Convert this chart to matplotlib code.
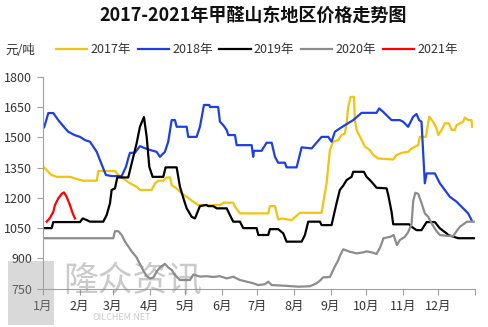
import matplotlib
matplotlib.use("Agg")
import matplotlib.pyplot as plt
from matplotlib.patches import Rectangle

plt.rcParams['font.family'] = ['Noto Sans CJK SC', 'DejaVu Sans']

title = "2017-2021年甲醛山东地区价格走势图"
unit = "元/吨"
month_labels = ["1月", "2月", "3月", "4月", "5月", "6月", "7月", "8月", "9月", "10月", "11月", "12月"]
month_starts = [0, 31, 59, 90, 120, 151, 181, 212, 243, 273, 304, 334, 365]
y_ticks = [750, 900, 1050, 1200, 1350, 1500, 1650, 1800]

# day of year / price (yuan per ton)
d2017 = [1, 4.5, 7.3, 11.6, 22.8, 28.5, 34, 45.4, 46.7, 60.8, 63.6, 67.8, 73.5, 79.1, 81.9, 91.8, 94.6, 97.4,
         101.6, 104.5, 107.3, 108.7, 112.9, 117.1, 121.4, 127, 131.2, 149.5, 152.3, 160.7, 162.2, 166.4, 190.3,
         191.7, 196, 198.7, 201.6, 210, 217.1, 235.4, 236.7, 239.6, 242.4, 245.2, 249.4, 252.2, 255.1, 256.5,
         257.9, 259.9, 262.7, 263.5, 265, 269.2, 272, 276.2, 279, 283.2, 295.9, 298.7, 303, 308.5, 311.4, 317,
         318.4, 323.5, 326.3, 329.6, 332.5, 333.9, 336.7, 339.5, 342.9, 345.2, 348, 349.4, 355, 356.4, 359.2,
         362.1, 362.5]
v2017 = [1350, 1329, 1313, 1304, 1304, 1293, 1285, 1285, 1333, 1333, 1313, 1296, 1272, 1255, 1239, 1239, 1272, 1285,
         1285, 1301, 1301, 1263, 1247, 1222, 1205, 1181, 1164, 1164, 1176, 1176, 1156, 1123, 1123,
         1159, 1159, 1093, 1098, 1090, 1126, 1126, 1173, 1272, 1437, 1478, 1486, 1511, 1519, 1569,
         1651, 1700, 1700, 1585, 1536, 1486, 1453, 1437, 1412, 1395, 1390, 1412, 1423, 1428, 1445, 1461,
         1502, 1502, 1602, 1577, 1544, 1511, 1536, 1569, 1569, 1536, 1536, 1560, 1577, 1598, 1585,
         1585, 1552]

d2018 = [1, 4.5, 8.7, 12.9, 18.6, 21.4, 27, 31.3, 35.5, 39.7, 45.4, 48.1, 53.2, 58, 66.5, 70.1, 72, 73.5, 77.7,
         81.9, 86.1, 90.4, 96, 98.8, 103, 105.8, 108.7, 111.5, 112.9, 121.4, 122.7, 129.8, 132.6, 136, 140.5,
         141, 148, 149.5, 152.3, 155.2, 156.5, 162.2, 163.6, 176.3, 177.6, 178.2, 184.7, 188.9, 193.2, 196,
         198.7, 204.4, 205.8, 214.3, 218.5, 227, 235.4, 241, 243.8, 246.6, 250.8, 255.1, 262.1, 269.2, 281.8,
         284, 287.4, 294.5, 301.5, 304.3, 308.5, 312.8, 315.6, 317.8, 319.8, 322.6, 324.1, 331.1, 335.3,
         339.5, 343.8, 349.4, 355, 359.2, 362.1]
v2018 = [1550, 1620, 1620, 1585, 1545, 1527, 1510, 1502, 1486, 1478, 1428, 1387, 1313, 1308, 1308, 1354, 1395, 1423, 1423,
         1456, 1446, 1437, 1428, 1403, 1428, 1478, 1585, 1585, 1552, 1552, 1502, 1502, 1552, 1660, 1660,
         1650, 1650, 1577, 1560, 1536, 1511, 1511, 1461, 1461, 1403, 1433, 1433, 1473, 1473, 1403,
         1374, 1374, 1351, 1351, 1450, 1445, 1502, 1502, 1478, 1527, 1544, 1560, 1585, 1621, 1621,
         1643, 1626, 1585, 1585, 1577, 1552, 1602, 1615, 1585, 1577, 1272, 1321, 1321, 1272,
         1239, 1205, 1181, 1148, 1123, 1090]

d2019 = [1, 7.3, 8.7, 31.3, 33.5, 36.9, 39.7, 50.9, 53.8, 56.6, 58, 60.8, 62.8, 72, 79.1, 81.9, 85.3, 87.6, 89.8,
         92.6, 101.6, 103.6, 112.9, 115.7, 119.1, 121.4, 125.6, 128.4, 131.2, 132.6, 138, 139.5, 143.8, 146.8,
         155.2, 157.9, 160.7, 166.4, 169.2, 180.5, 181.9, 190.3, 191.7, 198.7, 203, 205.8, 218.5, 221.3, 224.1,
         234, 235.4, 243.8, 248, 250.8, 253.6, 256.5, 260.7, 262.1, 271.1, 273.4, 276.2, 279, 281.8, 290.3,
         291.7, 294.5, 295.9, 309.4, 311.4, 315.6, 319.8, 324.1, 331.1, 335.3, 341, 342.3, 350.8, 365]
v2019 = [1050, 1050, 1080, 1080, 1098, 1090, 1082, 1082, 1115, 1173, 1239, 1247, 1301, 1301, 1470, 1552, 1600, 1502, 1354,
         1304, 1304, 1351, 1351, 1255, 1189, 1148, 1106, 1098, 1139, 1159, 1165, 1159, 1159, 1148,
         1148, 1115, 1082, 1082, 1050, 1050, 1016, 1016, 1045, 1045, 1024, 983, 983, 1016, 1082,
         1082, 1065, 1065, 1173, 1239, 1260, 1288, 1304, 1329, 1329, 1304, 1288, 1270, 1250, 1247,
         1214, 1131, 1069, 1069, 1057, 1040, 1040, 1080, 1080, 1049, 1024, 1016, 1000, 1000]

d2020 = [1, 59.4, 60.8, 63.6, 66.5, 69.3, 72, 74.9, 79.1, 81.9, 84.8, 87.6, 90.4, 93.2, 96, 98.8, 103, 105.8, 108.7,
         111.5, 115.7, 124.2, 127, 132.6, 138.3, 143.8, 149.5, 155.2, 160.7, 166.4, 172, 177.6, 181.9, 187.5,
         190.3, 193.2, 203, 215.8, 225.5, 231.2, 234, 236.7, 242.4, 246.6, 249.4, 250.8, 253.6, 259.3, 265,
         270.6, 273.4, 279, 281.8, 284.9, 287.7, 293.4, 296.2, 299, 301.5, 305.7, 308.5, 311.4, 312.8, 314.6,
         317, 319.8, 322.6, 325.5, 328.3, 332.5, 335.3, 341, 346.6, 349.4, 352.3, 358.3, 364]
v2020 = [1000, 1000, 1035, 1035, 1016, 983, 960, 935, 905, 872, 840, 812, 801, 805, 835, 855, 873, 855, 843,
         818, 793, 793, 820, 810, 812, 808, 812, 801, 809, 793, 785, 777, 768, 772,
         785, 768, 765, 760, 762, 777, 790, 806, 808, 860, 890, 912, 945, 933, 925,
         930, 935, 928, 922, 955, 1000, 1007, 1016, 966, 991, 1007, 1030, 1070, 1185, 1225,
         1220, 1175, 1123, 1106, 1074, 1035, 1016, 1012, 1010, 1035, 1057, 1082, 1082]

d2021 = [3.1, 5.9, 8.7, 10.1, 12.9, 15.8, 17.7, 20, 22.8, 25.1, 27]
v2021 = [1082, 1101, 1131, 1164, 1197, 1220, 1227, 1205, 1164, 1123, 1098]

series = [
    ("2017年", d2017, v2017, "#F2C40F"),
    ("2018年", d2018, v2018, "#1E3FE6"),
    ("2019年", d2019, v2019, "#000000"),
    ("2020年", d2020, v2020, "#8C8C8C"),
    ("2021年", d2021, v2021, "#FF0000"),
]

W, H = 488, 327
fig = plt.figure(figsize=(W / 100, H / 100), dpi=100)
ax = fig.add_axes([43 / W, (H - 288.7) / H, 432 / W, 212 / H])

# watermark
fig.text(63 / W, 1 - 282 / H, "隆众资讯", fontsize=25, color="#8a8a8a", alpha=0.45,
         ha="left", va="center", zorder=0)
fig.text(122 / W, 1 - 318 / H, "OILCHEM.NET", fontsize=6.5, color="#aaaaaa", alpha=0.6,
         ha="center", va="center", zorder=0)
fig.patches.append(Rectangle((8 / W, 1 - 325 / H), 46 / W, 64 / H, transform=fig.transFigure,
                             facecolor="#a0a0a0", alpha=0.4, edgecolor="none", zorder=0))

lines = []
for name, d, v, c in series:
    ln, = ax.plot(d, v, color=c, lw=1.6, label=name, solid_joinstyle="round")
    lines.append(ln)

ax.set_xlim(0, 365)
ax.set_ylim(750, 1800)
ax.set_yticks(y_ticks)
ax.set_yticklabels([str(t) for t in y_ticks])
ax.set_xticks(month_starts)
ax.set_xticklabels(month_labels + [""])
ax.patch.set_alpha(0)

for s in ["top", "right"]:
    ax.spines[s].set_visible(False)
for s in ["left", "bottom"]:
    ax.spines[s].set_color("#a0a0a0")
    ax.spines[s].set_linewidth(0.8)
ax.tick_params(axis="both", colors="#a0a0a0", labelcolor="#333333", labelsize=9, length=4, width=0.8)
ax.tick_params(axis="y", pad=4)
ax.tick_params(axis="x", pad=4)

fig.text(253 / W, 1 - 15 / H, title, fontsize=13, fontweight="bold", ha="center", va="center",
         color="#111111")
fig.text(5 / W, 1 - 50 / H, unit, fontsize=9, ha="left", va="center", color="#333333")

fig.legend(handles=lines, loc="center left", bbox_to_anchor=(56 / W, 1 - 50 / H), ncol=5, frameon=False,
           fontsize=9, handlelength=2.5, handletextpad=0.25, columnspacing=0.55, borderpad=0,
           borderaxespad=0, labelcolor="#333333")

fig.savefig("out.png", dpi=100)
